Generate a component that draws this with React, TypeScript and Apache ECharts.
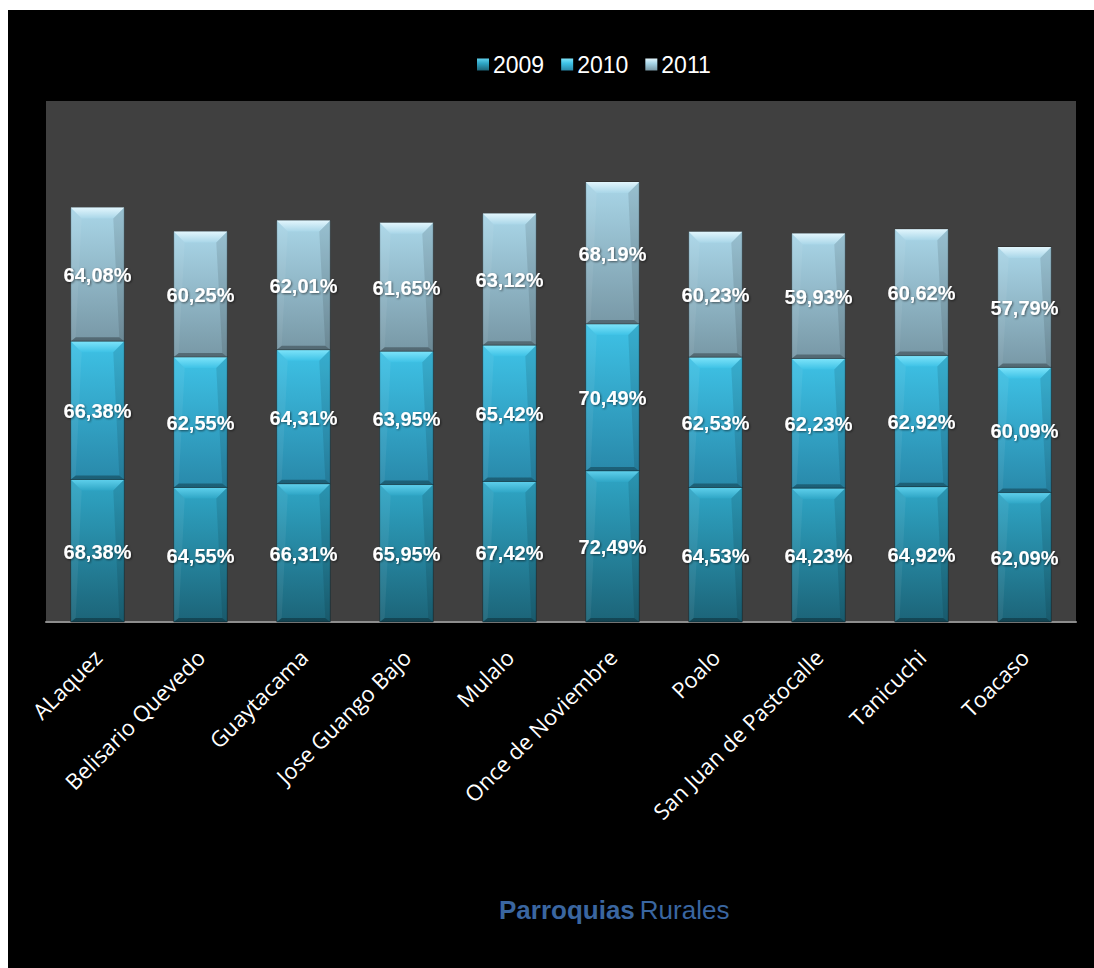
import React, { useEffect, useRef } from "react";
import * as echarts from "echarts";

const categories = [
  "ALaquez",
  "Belisario Quevedo",
  "Guaytacama",
  "Jose Guango Bajo",
  "Mulalo",
  "Once de Noviembre",
  "Poalo",
  "San Juan de Pastocalle",
  "Tanicuchi",
  "Toacaso",
];
const years = ["2009", "2010", "2011"];
const values2009 = [68.38, 64.55, 66.31, 65.95, 67.42, 72.49, 64.53, 64.23, 64.92, 62.09];
const values2010 = [66.38, 62.55, 64.31, 63.95, 65.42, 70.49, 62.53, 62.23, 62.92, 60.09];
const values2011 = [64.08, 60.25, 62.01, 61.65, 63.12, 68.19, 60.23, 59.93, 60.62, 57.79];
const seriesValues = [values2009, values2010, values2011];

const palettes = [
  { top: "#2fa6c6", bottom: "#1c6478", bevel: "#5fd0ec" },
  { top: "#3ec2e6", bottom: "#2989aa", bevel: "#7ee4fa" },
  { top: "#a9d6e8", bottom: "#7898a6", bevel: "#e2f6fd" },
];

function fmt(v: number) {
  return v.toFixed(2).replace(".", ",") + "%";
}

export default function App() {
  const ref = useRef<HTMLDivElement>(null);
  useEffect(() => {
    if (!ref.current) return;
    const chart = echarts.init(ref.current, undefined, { renderer: "svg" });

    const series = years.map((year, s) => {
      const pal = palettes[s];
      const data = seriesValues[s].map((v, i) => {
        let base = 0;
        for (let k = 0; k < s; k++) base += seriesValues[k][i];
        return [i, v, base];
      });
      return {
        name: year,
        type: "custom",
        encode: { x: 0, y: 1 },
        itemStyle: {
          color: new echarts.graphic.LinearGradient(0, 0, 0, 1, [
            { offset: 0, color: pal.bevel },
            { offset: 0.4, color: pal.top },
            { offset: 1, color: pal.bottom },
          ]),
        },
        data,
        renderItem: (params: any, api: any) => {
          const i = api.value(0);
          const v = api.value(1);
          const base = api.value(2);
          const p0 = api.coord([i, base]);
          const p1 = api.coord([i, base + v]);
          const catW = api.size([1, 0])[0];
          const w = catW * 0.52;
          const x = p0[0] - w / 2;
          const yTop = p1[1];
          const yBot = p0[1];
          const h = yBot - yTop;
          const bt = 11;
          const bs = 5;
          const bb = 4;
          return {
            type: "group",
            children: [
              {
                type: "rect",
                shape: { x, y: yTop, width: w, height: h },
                style: {
                  fill: new echarts.graphic.LinearGradient(0, 0, 0, 1, [
                    { offset: 0, color: pal.top },
                    { offset: 1, color: pal.bottom },
                  ]),
                  stroke: "rgba(0,0,0,0.35)",
                  lineWidth: 1,
                },
              },
              {
                type: "polygon",
                shape: {
                  points: [
                    [x, yTop],
                    [x + w, yTop],
                    [x + w - bt, yTop + bt],
                    [x + bt, yTop + bt],
                  ],
                },
                style: {
                  fill: new echarts.graphic.LinearGradient(0, 0, 0, 1, [
                    { offset: 0, color: pal.bevel },
                    { offset: 1, color: pal.top },
                  ]),
                },
              },
              {
                type: "polygon",
                shape: {
                  points: [
                    [x, yTop],
                    [x + bt, yTop + bt],
                    [x + bs, yBot - bb],
                    [x, yBot],
                  ],
                },
                style: { fill: "rgba(255,255,255,0.06)" },
              },
              {
                type: "polygon",
                shape: {
                  points: [
                    [x + w, yTop],
                    [x + w - bt, yTop + bt],
                    [x + w - bs, yBot - bb],
                    [x + w, yBot],
                  ],
                },
                style: { fill: "rgba(0,0,0,0.1)" },
              },
              {
                type: "polygon",
                shape: {
                  points: [
                    [x, yBot],
                    [x + bs, yBot - bb],
                    [x + w - bs, yBot - bb],
                    [x + w, yBot],
                  ],
                },
                style: { fill: "rgba(0,0,0,0.3)" },
              },
              {
                type: "text",
                x: p0[0],
                y: (yTop + yBot) / 2 + 1,
                style: {
                  text: fmt(v),
                  fill: "#ffffff",
                  fontSize: 20,
                  fontWeight: "bold",
                  fontFamily: "Arial, 'Liberation Sans', sans-serif",
                  align: "center",
                  verticalAlign: "middle",
                  textShadowColor: "rgba(0,0,0,0.55)",
                  textShadowBlur: 2,
                  textShadowOffsetX: 1,
                  textShadowOffsetY: 1,
                },
              },
            ],
          };
        },
      };
    });

    const option: any = {
      animation: false,
      backgroundColor: "#000000",
      title: {
        text: "{b|Parroquias} {n|Rurales}",
        left: 486,
        top: 882,
        textStyle: {
          rich: {
            b: {
              color: "#3a66a0",
              fontSize: 26,
              fontWeight: "bold",
              fontFamily: "Arial, 'Liberation Sans', sans-serif",
            },
            n: {
              color: "#3a66a0",
              fontSize: 26,
              fontWeight: "normal",
              fontFamily: "Arial, 'Liberation Sans', sans-serif",
            },
          },
        },
      },
      legend: {
        data: years,
        left: 464,
        top: 38,
        icon: "rect",
        itemWidth: 12,
        itemHeight: 12,
        itemGap: 17,
        textStyle: {
          color: "#ffffff",
          fontSize: 23,
          fontFamily: "Arial, 'Liberation Sans', sans-serif",
          padding: [0, 0, 0, -1],
        },
      },
      grid: {
        left: 38,
        top: 91,
        width: 1030,
        height: 521,
        show: true,
        backgroundColor: "#404040",
        borderWidth: 0,
      },
      xAxis: {
        type: "category",
        data: categories,
        axisLine: { lineStyle: { color: "#8c8c8c", width: 2 } },
        axisTick: { show: false },
        axisLabel: {
          rotate: 45,
          interval: 0,
          color: "#ffffff",
          fontSize: 22,
          fontFamily: "'Open Sans', sans-serif",
          margin: 31,
        },
      },
      yAxis: {
        type: "value",
        min: 0,
        max: 250,
        show: false,
        splitLine: { show: false },
      },
      series,
    };
    chart.setOption(option);
    return () => chart.dispose();
  }, []);

  return (
    <div
      ref={ref}
      style={{ position: "fixed", left: 8, top: 10, right: 0, bottom: 0, background: "#000" }}
    />
  );
}
